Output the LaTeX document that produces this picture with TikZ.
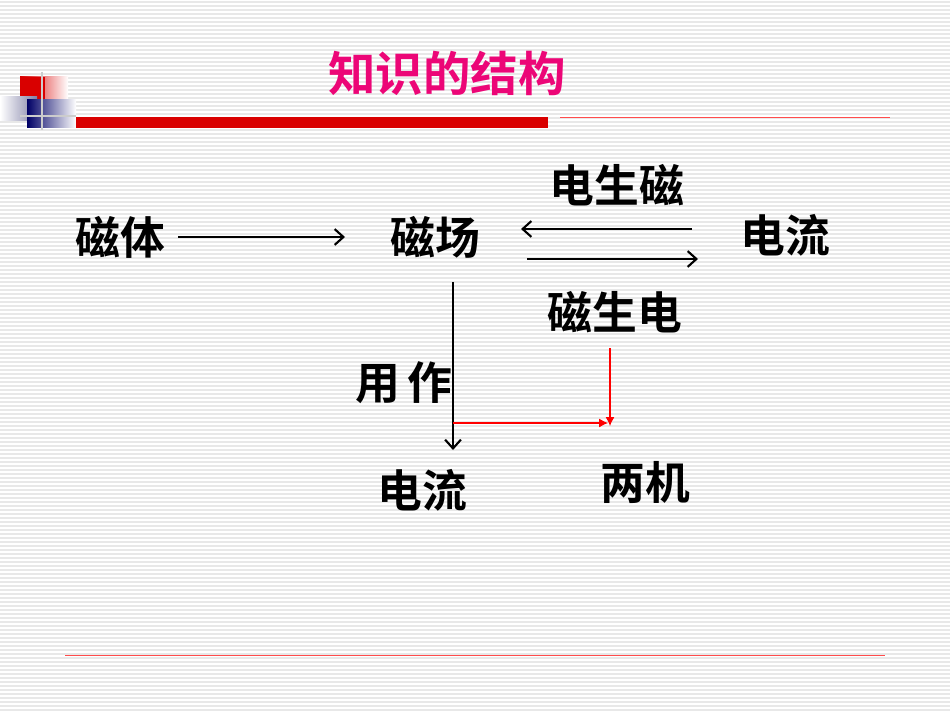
\documentclass[tikz,border=0pt]{standalone}
\usepackage{fontspec}
\newfontfamily\cjk{Noto Sans CJK SC Bold}
\usetikzlibrary{arrows.meta}
\begin{document}
\begin{tikzpicture}[x=0.02cm,y=-0.02cm,
  lbl/.style={font=\cjk\fontsize{25.5}{25.5}\selectfont,inner sep=0pt},
  blk/.style={draw=black,line width=1.2pt,-{Straight Barb[length=5pt,width=9pt]}},
  redl/.style={draw=red,line width=0.6pt,-{Latex[length=5pt,width=5pt]}}]
\useasboundingbox (0,0) rectangle (950,713);
\fill[white] (0,0) rectangle (950,713);
\foreach \y in {2,6,...,710} \draw[black!9,line width=0.7pt] (0,\y) -- (950,\y);
% logo
\shade[left color=red!85!black,right color=white] (20,77) rectangle (68,102);
\fill[red!85!black] (20,77) rectangle (45,102);
\shade[left color=white,right color=blue!30!black!50!white] (0,97) rectangle (37,121);
\shade[left color=blue!40!black,right color=white] (27,100) rectangle (76,128);
\draw[black!20,line width=0.8pt] (42,72) -- (42,130) (20,116) -- (76,116);
\fill[red!85!black] (76,117) rectangle (548,128);
\draw[red!70,line width=0.5pt] (560,117) -- (890,117);
\draw[red!70,line width=0.5pt] (65,655) -- (885,655);
% title
\node[lbl,text=magenta!80!red,font=\cjk\fontsize{27}{27}\selectfont] (t) at (447,73) {知识的结构};
% nodes
\node[lbl] (ct) at (120,237) {磁体};
\node[lbl] (cc) at (435,237) {磁场};
\node[lbl] (dsc) at (617,185) {电生磁};
\node[lbl] (dl) at (785,235) {电流};
\node[lbl] (csd) at (615,312) {磁生电};
\node[lbl] (yz) at (404,383) {用\,作};
\node[lbl] (dl2) at (422,490) {电流};
\node[lbl] (lj) at (645,482) {两机};
\coordinate (a1) at (178,237); \coordinate (a2) at (345,237);
\coordinate (b1) at (692,229); \coordinate (b2) at (521,229);
\coordinate (c1) at (527,259); \coordinate (c2) at (698,259);
\coordinate (v1) at (453,282); \coordinate (v2) at (453,450);
\coordinate (r1) at (610,348); \coordinate (r2) at (610,426);
\coordinate (h1) at (453,423); \coordinate (h2) at (608,423);
\draw[blk] (a1) -- (a2);
\draw[blk] (b1) -- (b2);
\draw[blk] (c1) -- (c2);
\draw[blk] (v1) -- (v2);
\draw[redl] (r1) -- (r2);
\draw[redl] (h1) -- (h2);
\end{tikzpicture}
\end{document}
